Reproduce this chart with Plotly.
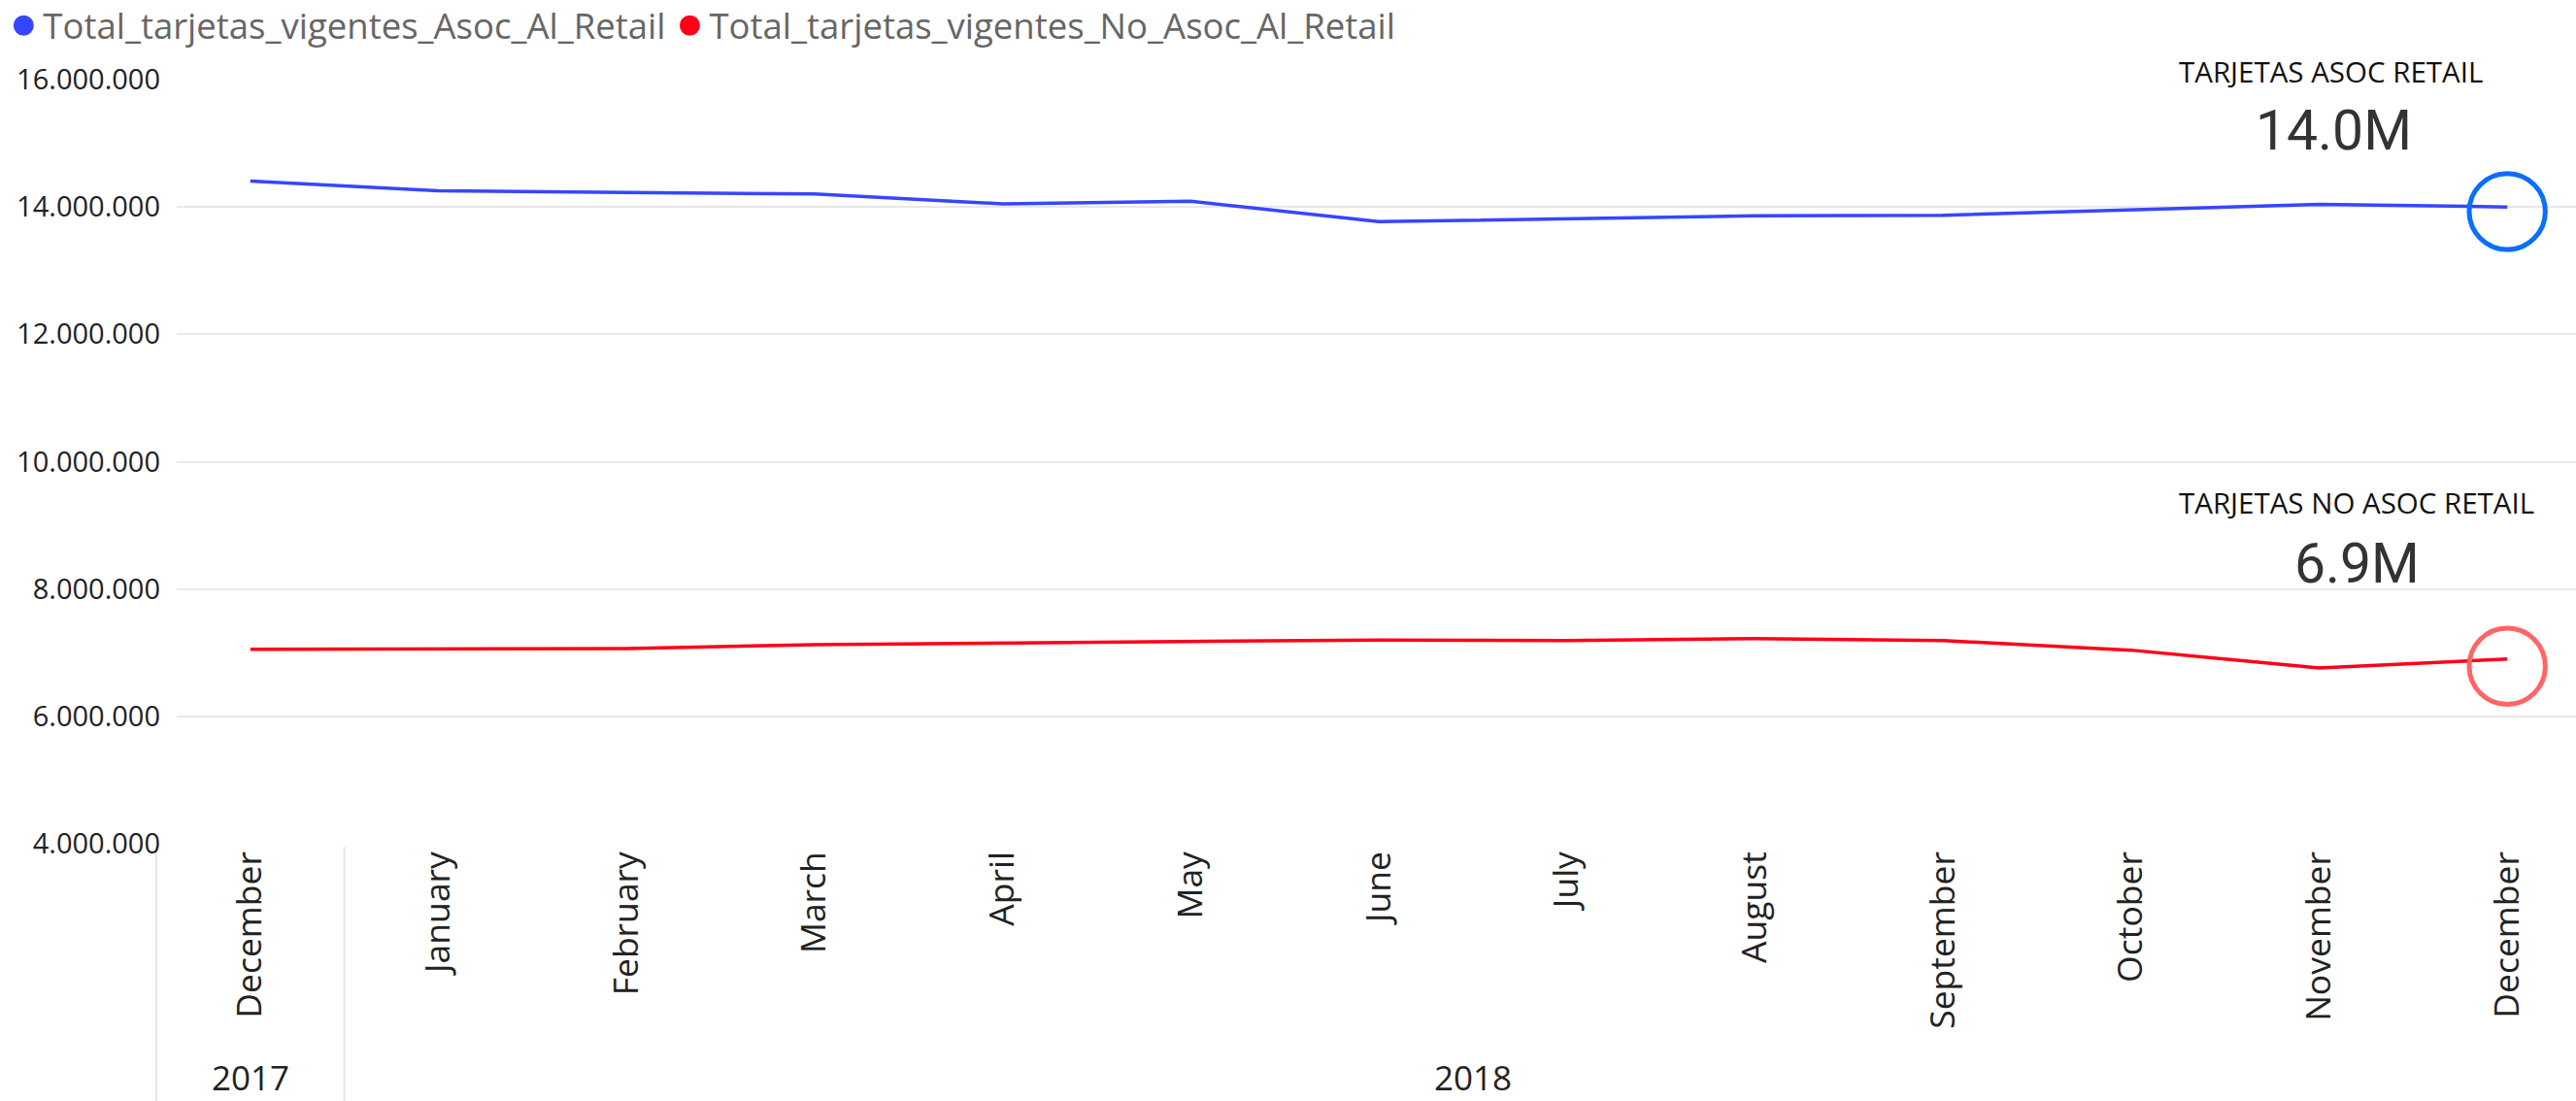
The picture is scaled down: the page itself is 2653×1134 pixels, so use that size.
import plotly.graph_objects as go

# ---- data ----
periods = ["2017-12", "2018-01", "2018-02", "2018-03", "2018-04", "2018-05", "2018-06",
           "2018-07", "2018-08", "2018-09", "2018-10", "2018-11", "2018-12"]
years = ["2017"] + ["2018"] * 12
months = ["December", "January", "February", "March", "April", "May", "June",
          "July", "August", "September", "October", "November", "December"]
asoc_retail = [14406000, 14253000, 14229000, 14203000, 14050000, 14090000, 13770000,
               13820000, 13860000, 13870000, 13960000, 14040000, 14000000]
no_asoc_retail = [7055000, 7066000, 7066000, 7127000, 7150000, 7177000, 7200000,
                  7190000, 7220000, 7190000, 7040000, 6760000, 6900000]
series_names = ["Total_tarjetas_vigentes_Asoc_Al_Retail",
                "Total_tarjetas_vigentes_No_Asoc_Al_Retail"]
card_titles = ["TARJETAS ASOC RETAIL", "TARJETAS NO ASOC RETAIL"]
y_ticks = [4000000, 6000000, 8000000, 10000000, 12000000, 14000000, 16000000]

# ---- styles ----
line_colors = ["#3646FF", "#FF0018"]
ring_colors = ["#0A6EFF", "#FF6565"]
FONT = "Segoe UI, Open Sans, sans-serif"
NUMFONT = "DIN, Liberation Sans Narrow, Roboto, sans-serif"
X_RANGE = [-0.3913, 12.3655]
MARGIN_B, PLOT_H = 265, 787

series = [asoc_retail, no_asoc_retail]

fig = go.Figure()
for vals, name, col in zip(series, series_names, line_colors):
    fig.add_trace(go.Scatter(x=periods, y=vals, mode="lines", name=name,
                             line=dict(color=col, width=3.5), showlegend=False))
# legend entries (dots)
for name, col in zip(series_names, line_colors):
    fig.add_trace(go.Scatter(x=[periods[-1]], y=[None], mode="markers", name=name,
                             marker=dict(color=col, size=16, line=dict(width=5, color=col)),
                             showlegend=True, hoverinfo="skip"))

shapes = []
# rings around last point
ring_offsets = [4.7, 7.5]
for vals, col, off in zip(series, ring_colors, ring_offsets):
    r = 39.2
    shapes.append(dict(type="circle", xref="x", yref="y",
                       xsizemode="pixel", ysizemode="pixel",
                       xanchor=len(vals) - 1, yanchor=vals[-1],
                       x0=-r, x1=r, y0=-r - off, y1=r - off,
                       line=dict(color=col, width=5), fillcolor="rgba(0,0,0,0)"))

# hierarchy dividers for the year groups
span = X_RANGE[1] - X_RANGE[0]
group_starts = [i for i in range(len(years)) if i == 0 or years[i] != years[i - 1]]
for gs in group_starts:
    px = (gs - 0.5 - X_RANGE[0]) / span
    shapes.append(dict(type="line", xref="paper", yref="paper", x0=px, x1=px,
                       y0=-0.004, y1=-MARGIN_B / PLOT_H, layer="below",
                       line=dict(color="#E6E6E6", width=2)))

annotations = []
# year group labels
for y in dict.fromkeys(years):
    idx = [i for i, v in enumerate(years) if v == y]
    annotations.append(dict(text=y, xref="x", yref="paper", x=sum(idx) / len(idx),
                            y=-0.305, xanchor="center", yanchor="middle", showarrow=False,
                            font=dict(family=FONT, size=35, color="#222222")))

# cards
card_pos = [((0.8980, 1.0114), (0.8992, 0.9327)), ((0.9085, 0.446), (0.9089, 0.3672))]
for title, vals, (tpos, npos) in zip(card_titles, series, card_pos):
    annotations.append(dict(text=title, xref="paper", yref="paper", x=tpos[0], y=tpos[1],
                            xanchor="center", yanchor="middle", showarrow=False,
                            font=dict(family=FONT, size=29.5, color="#111111")))
    annotations.append(dict(text=f"{vals[-1] / 1e6:.1f}M", xref="paper", yref="paper",
                            x=npos[0], y=npos[1], xanchor="center", yanchor="middle",
                            showarrow=False,
                            font=dict(family=NUMFONT, size=57, color="#333333")))

fig.update_layout(
    width=2653, height=1134,
    paper_bgcolor="white", plot_bgcolor="white",
    margin=dict(l=182, r=0, t=82, b=MARGIN_B, autoexpand=False),
    separators=",.",
    font=dict(family=FONT),
    showlegend=True,
    legend=dict(orientation="h", x=-0.0719, xref="paper", y=1.1093, yref="paper",
                xanchor="left", yanchor="top",
                font=dict(size=36.5, color="#666666", family=FONT),
                itemwidth=30, bgcolor="rgba(0,0,0,0)"),
    shapes=shapes,
    annotations=annotations,
    xaxis=dict(type="category", range=X_RANGE, tickangle=-90,
               tickvals=periods, ticktext=months,
               tickfont=dict(size=35.5, color="#222222", family=FONT),
               showgrid=False, zeroline=False, showline=False, ticks=""),
    yaxis=dict(range=[4000000, 16000000], tickvals=y_ticks, tickformat=",d",
               tickfont=dict(size=29, color="#222222", family=FONT),
               ticklabelstandoff=16,
               gridcolor="#E8E8E8", gridwidth=2, zeroline=False, showline=False,
               ticks=""),
)

fig.write_html("out.html", config={"displayModeBar": False},
               post_script="document.body.style.margin='0px';")
